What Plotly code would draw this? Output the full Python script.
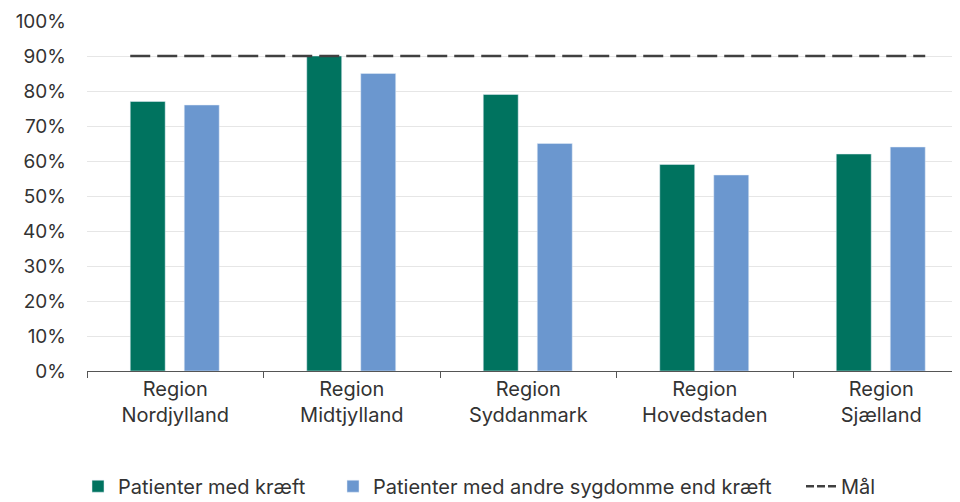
import plotly.graph_objects as go

categories = ["Region<br>Nordjylland", "Region<br>Midtjylland", "Region<br>Syddanmark",
              "Region<br>Hovedstaden", "Region<br>Sjælland"]
cancer = [77, 90, 79, 59, 62]
other = [76, 85, 65, 56, 64]
target = 90
y_ticks = [0, 10, 20, 30, 40, 50, 60, 70, 80, 90, 100]
y_labels = [f"{v}%" for v in y_ticks]

GREEN = "#00735F"
BLUE = "#6B97CF"
LINE = "#404040"
FONT = "Inter"
FS = 20

idx = list(range(len(categories)))
bw = 0.198
off_g = -0.255
off_b = 0.051

fig = go.Figure()
fig.add_trace(go.Bar(x=idx, y=cancer, name="Patienter med kræft", marker_color=GREEN,
                     width=bw, offset=off_g, legend="legend"))
fig.add_trace(go.Bar(x=idx, y=other, name="Patienter med andre sygdomme end kræft",
                     marker_color=BLUE, width=bw, offset=off_b, legend="legend2"))
fig.add_trace(go.Scatter(x=[idx[0] + off_g, idx[-1] + off_b + bw], y=[target, target],
                         mode="lines", name="Mål", showlegend=False,
                         line=dict(color=LINE, width=2.5, dash="20px,7px")))
fig.add_trace(go.Scatter(x=[None], y=[None], mode="lines", name="Mål", legend="legend3",
                         line=dict(color=LINE, width=2.5, dash="8px,3px")))

leg_common = dict(orientation="h", xanchor="left", yref="container", y=0.032,
                  yanchor="middle", font=dict(size=FS, color="#333333"), itemwidth=30,
                  bgcolor="rgba(0,0,0,0)")

fig.update_layout(
    width=952, height=494,
    margin=dict(l=79, r=0, t=13, b=131),
    paper_bgcolor="white", plot_bgcolor="white",
    font=dict(family=FONT, size=FS, color="#333333"),
    barmode="overlay",
    showlegend=True,
    legend=dict(x=-0.0103, **leg_common),
    legend2=dict(x=0.2818, **leg_common),
    legend3=dict(x=0.8179, **leg_common),
    xaxis=dict(range=[-0.5, 4.446], tickvals=idx, ticktext=categories,
               ticks="", showgrid=False, showline=True, linecolor="#555555", linewidth=1,
               tickfont=dict(size=FS, color="#333333"), automargin=False,
               minor=dict(tickvals=[i - 0.5 for i in range(len(categories) + 1)],
                          ticks="outside", ticklen=6, tickcolor="#555555", showgrid=False),
               zeroline=False),
    yaxis=dict(range=[0, 100], tickvals=y_ticks, ticktext=y_labels,
               showgrid=True, gridcolor="#e6e6e6", gridwidth=1, automargin=False,
               zeroline=False, showline=False, ticks="",
               tickfont=dict(size=19, color="#333333"), ticklabelstandoff=20),
)

fig.write_html("out.html")
